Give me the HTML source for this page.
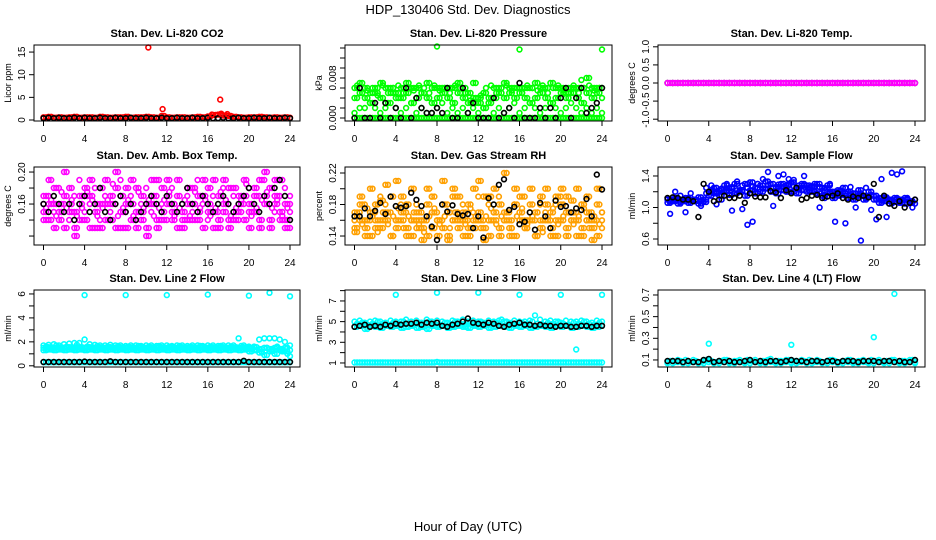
<!DOCTYPE html>
<html><head><meta charset="utf-8"><style>
html,body{margin:0;padding:0;background:#fff}
svg{display:block;font-family:"Liberation Sans",sans-serif}
</style></head><body>
<svg id="chart" width="936" height="540" viewBox="0 0 936 540">
<text x="468" y="14" font-size="13" text-anchor="middle">HDP_130406  Std. Dev. Diagnostics</text>
<text x="468" y="531" font-size="13" text-anchor="middle">Hour of Day (UTC)</text>
</svg>
<script>
const T=[0,0.5,1,1.5,2,2.5,3,3.5,4,4.5,5,5.5,6,6.5,7,7.5,8,8.5,9,9.5,10,10.5,11,11.5,12,12.5,13,13.5,14,14.5,15,15.5,16,16.5,17,17.5,18,18.5,19,19.5,20,20.5,21,21.5,22,22.5,23,23.5,24];
const T2=[0.25,0.75,1.25,1.75,2.25,2.75,3.25,3.75,4.25,4.75,5.25,5.75,6.25,6.75,7.25,7.75,8.25,8.75,9.25,9.75,10.25,10.75,11.25,11.75,12.25,12.75,13.25,13.75,14.25,14.75,15.25,15.75,16.25,16.75,17.25,17.75,18.25,18.75,19.25,19.75,20.25,20.75,21.25,21.75,22.25,22.75,23.25,23.75];
const xTicks=[0,4,8,12,16,20,24];
const xTickLabels=["0","4","8","12","16","20","24"];

// Panel 1 CO2
const co2Red=[0.6,0.7,0.5,0.6,0.5,0.6,0.7,0.5,0.6,0.6,0.5,0.7,0.6,0.5,0.6,0.6,0.7,0.5,0.6,0.6,0.7,0.6,0.5,0.9,0.6,0.5,0.6,0.6,0.5,0.6,0.7,0.6,0.8,1.1,1.2,1.0,0.9,0.7,0.6,0.5,0.6,0.6,0.7,0.6,0.5,0.6,0.5,0.6,0.5];
const co2Black=[0.4,0.5,0.4,0.5,0.4,0.4,0.5,0.4,0.5,0.4,0.4,0.5,0.4,0.4,0.5,0.4,0.4,0.5,0.4,0.4,0.5,0.4,0.4,0.5,0.4,0.4,0.5,0.4,0.4,0.5,0.4,0.4,0.5,0.4,0.4,0.5,0.4,0.4,0.5,0.4,0.4,0.5,0.4,0.4,0.5,0.4,0.4,0.5,0.4];
const co2OutT=[10.2,11.6,17.2,16.4,17.3,17.9];
const co2OutY=[16,2.4,4.5,1.2,1.4,1.3];

// Panel 2 pressure
const prG0=[0,0,0,0,0,0,0,0,0,0,0,0,0,0,0,0,0,0,0,0,0,0,0,0,0,0,0,0,0,0,0,0,0,0,0,0,0,0,0,0,0,0,0,0,0,0,0,0,0];
const prG1=[0.006,0.007,0.006,0.005,0.006,0.007,0.006,0.006,0.005,0.006,0.007,0.006,0.006,0.005,0.007,0.006,0.006,0.006,0.006,0.006,0.007,0.006,0.005,0.007,0.004,0.005,0.004,0.006,0.006,0.007,0.006,0.006,0.006,0.006,0.006,0.007,0.006,0.006,0.007,0.006,0.006,0.005,0.006,0.006,0.006,0.008,0.006,0.006,0.006];
const prG2=[0.004,0.005,0.004,0.003,0.005,0.004,0.003,0.005,0.004,0.004,0.005,0.003,0.004,0.005,0.004,0.003,0.004,0.005,0.004,0.003,0.005,0.004,0.003,0.004,0.003,0.002,0.003,0.004,0.005,0.004,0.005,0.004,0.005,0.004,0.003,0.004,0.005,0.004,0.003,0.004,0.005,0.004,0.005,0.004,0.003,0.005,0.004,0.005,0.004];
const prG3=[0.001,0.002,0.002,0.003,0.002,0.001,0.002,0.003,0.002,0.001,0.002,0.003,0.001,0.002,0.001,0.001,0.002,0.003,0.001,0.002,0.001,0.002,0.001,0.002,0.001,0.002,0.003,0.001,0.002,0.001,0.002,0.003,0.001,0.002,0.003,0.002,0.001,0.002,0.003,0.002,0.001,0.002,0.003,0.002,0.001,0.002,0.001,0.002,0.001];
const prG5=[0.0065,0.005,0.0055,0.006,0.0045,0.0065,0.005,0.006,0.0065,0.005,0.006,0.0055,0.0065,0.006,0.005,0.0065,0.0055,0.006,0.005,0.0065,0.006,0.005,0.0035,0.003,0.0045,0.006,0.0065,0.005,0.006,0.0065,0.0055,0.006,0.005,0.0065,0.006,0.0055,0.0065,0.005,0.006,0.0065,0.0055,0.006,0.0065,0.005,0.006,0.0065,0.0055,0.006];
const prBlack=[0.0,0.006,0.0,0.0,0.003,0.0,0.003,0.0,0.002,0.0,0.006,0.0,0.004,0.002,0.001,0.001,0.002,0.001,0.006,0.0,0.0,0.006,0.001,0.003,0.0,0.0,0.0,0.004,0.0,0.001,0.002,0.0,0.007,0.0,0.0,0.0,0.002,0.0,0.002,0.0,0.004,0.006,0.0,0.004,0.006,0.001,0.002,0.003,0.006];
const prOutT=[8,16,24,22];
const prOutY=[0.0143,0.0137,0.0137,0.0076];

// Panel 3 temperature
const tmMag=[0,0,0,0,0,0,0,0,0,0,0,0,0,0,0,0,0,0,0,0,0,0,0,0,0,0,0,0,0,0,0,0,0,0,0,0,0,0,0,0,0,0,0,0,0,0,0,0,0];
const tmBlack=[0,0,0,0,0,0,0,0,0,0,0,0,0,0,0,0,0,0,0,0,0,0,0,0,0,0,0,0,0,0,0,0,0,0,0,0,0,0,0,0,0,0,0,0,0,0,0,0,0];

// Panel 4 amb box temp
const abM1=[0.16,0.17,0.15,0.18,0.16,0.14,0.17,0.19,0.15,0.16,0.18,0.14,0.17,0.15,0.16,0.19,0.15,0.17,0.14,0.16,0.18,0.15,0.17,0.16,0.14,0.18,0.15,0.16,0.17,0.15,0.19,0.16,0.14,0.17,0.15,0.18,0.16,0.17,0.14,0.16,0.18,0.15,0.17,0.19,0.16,0.15,0.17,0.18,0.16];
const abM2=[0.15,0.14,0.16,0.15,0.13,0.16,0.15,0.14,0.17,0.13,0.15,0.16,0.14,0.17,0.13,0.15,0.16,0.14,0.15,0.17,0.13,0.16,0.14,0.15,0.17,0.16,0.13,0.15,0.14,0.16,0.15,0.13,0.16,0.15,0.14,0.16,0.13,0.15,0.17,0.14,0.16,0.15,0.13,0.16,0.14,0.17,0.15,0.14,0.15];
const abM3=[0.17,0.16,0.18,0.14,0.17,0.18,0.13,0.16,0.18,0.17,0.13,0.18,0.16,0.14,0.18,0.17,0.13,0.16,0.18,0.14,0.16,0.17,0.19,0.14,0.16,0.15,0.17,0.14,0.16,0.18,0.14,0.17,0.18,0.13,0.17,0.15,0.18,0.14,0.16,0.17,0.15,0.18,0.14,0.17,0.18,0.16,0.19,0.13,0.17];
const abM4=[0.14,0.19,0.13,0.16,0.2,0.15,0.12,0.17,0.14,0.19,0.16,0.13,0.19,0.16,0.2,0.13,0.18,0.19,0.13,0.15,0.12,0.19,0.13,0.18,0.19,0.14,0.19,0.13,0.18,0.14,0.17,0.19,0.15,0.19,0.13,0.19,0.14,0.18,0.15,0.19,0.13,0.17,0.19,0.2,0.13,0.19,0.14,0.16,0.13];
const abM5=[0.155,0.165,0.145,0.175,0.155,0.165,0.145,0.155,0.175,0.165,0.145,0.155,0.165,0.185,0.145,0.155,0.165,0.145,0.175,0.155,0.165,0.145,0.155,0.165,0.175,0.145,0.155,0.165,0.145,0.175,0.155,0.165,0.145,0.155,0.175,0.165,0.145,0.155,0.165,0.185,0.145,0.155,0.165,0.175,0.155,0.165,0.145,0.155];
const abBlack=[0.16,0.15,0.17,0.16,0.15,0.16,0.14,0.16,0.17,0.15,0.16,0.18,0.15,0.14,0.16,0.17,0.15,0.16,0.14,0.15,0.16,0.17,0.16,0.15,0.17,0.16,0.15,0.16,0.18,0.16,0.15,0.17,0.16,0.15,0.16,0.17,0.16,0.15,0.16,0.17,0.18,0.16,0.15,0.17,0.16,0.18,0.19,0.17,0.14];

// Panel 5 gas stream RH
const rhO1=[0.17,0.18,0.16,0.17,0.18,0.16,0.17,0.19,0.16,0.17,0.18,0.16,0.17,0.16,0.18,0.17,0.16,0.18,0.17,0.19,0.16,0.17,0.18,0.16,0.17,0.19,0.16,0.17,0.18,0.17,0.16,0.18,0.17,0.16,0.18,0.17,0.16,0.18,0.17,0.16,0.18,0.19,0.17,0.16,0.18,0.17,0.16,0.18,0.17];
const rhO2=[0.15,0.16,0.15,0.14,0.16,0.15,0.16,0.14,0.15,0.16,0.15,0.14,0.16,0.15,0.14,0.15,0.16,0.15,0.14,0.16,0.15,0.16,0.14,0.15,0.16,0.15,0.14,0.16,0.15,0.16,0.15,0.14,0.16,0.15,0.16,0.14,0.15,0.16,0.15,0.14,0.16,0.15,0.16,0.14,0.15,0.16,0.15,0.14,0.16];
const rhO3=[0.16,0.17,0.18,0.16,0.17,0.19,0.18,0.17,0.16,0.18,0.17,0.16,0.18,0.17,0.16,0.19,0.17,0.16,0.18,0.16,0.17,0.18,0.16,0.17,0.19,0.16,0.18,0.17,0.19,0.16,0.17,0.18,0.16,0.19,0.17,0.16,0.18,0.17,0.16,0.18,0.19,0.17,0.16,0.17,0.18,0.16,0.17,0.16,0.17];
const rhO4=[0.145,0.19,0.14,0.2,0.15,0.185,0.205,0.14,0.21,0.19,0.14,0.2,0.15,0.135,0.2,0.19,0.14,0.21,0.135,0.2,0.19,0.14,0.15,0.2,0.21,0.135,0.19,0.2,0.14,0.22,0.14,0.2,0.19,0.15,0.2,0.14,0.19,0.2,0.14,0.19,0.2,0.14,0.185,0.2,0.14,0.19,0.135,0.2,0.15];
const rhO5=[0.165,0.155,0.175,0.165,0.145,0.17,0.155,0.165,0.175,0.15,0.165,0.17,0.155,0.145,0.165,0.175,0.155,0.165,0.15,0.17,0.165,0.155,0.175,0.165,0.15,0.165,0.175,0.155,0.165,0.17,0.15,0.165,0.175,0.155,0.165,0.17,0.145,0.165,0.175,0.155,0.165,0.17,0.155,0.165,0.175,0.15,0.165,0.155];
const rhBlack=[0.165,0.165,0.175,0.165,0.172,0.182,0.168,0.19,0.178,0.176,0.178,0.195,0.186,0.178,0.165,0.152,0.135,0.18,0.171,0.179,0.168,0.166,0.168,0.15,0.165,0.138,0.188,0.18,0.205,0.212,0.173,0.177,0.155,0.158,0.17,0.148,0.182,0.165,0.15,0.185,0.177,0.178,0.17,0.175,0.173,0.187,0.165,0.218,0.199];

// Panel 6 sample flow
const sfB1=[1.1,1.12,1.1,1.08,1.12,1.1,1.13,1.1,1.2,1.25,1.22,1.28,1.24,1.3,1.22,1.3,1.32,1.25,1.28,1.33,1.3,1.26,1.3,1.28,1.32,1.25,1.3,1.28,1.27,1.3,1.25,1.28,1.2,1.22,1.25,1.2,1.18,1.22,1.15,1.2,1.15,1.12,1.13,1.1,1.12,1.1,1.12,1.08,1.1];
const sfB2=[1.06,1.08,1.05,1.1,1.06,1.08,1.05,1.07,1.15,1.18,1.15,1.2,1.16,1.18,1.2,1.15,1.22,1.18,1.2,1.24,1.2,1.18,1.22,1.2,1.2,1.18,1.22,1.2,1.2,1.18,1.15,1.2,1.12,1.15,1.18,1.12,1.1,1.15,1.1,1.15,1.1,1.06,1.08,1.05,1.07,1.06,1.05,1.06,1.05];
const sfB4=[1.08,1.1,1.07,1.12,1.09,1.1,1.08,1.18,1.22,1.2,1.24,1.22,1.26,1.22,1.28,1.25,1.27,1.3,1.24,1.28,1.25,1.29,1.26,1.3,1.27,1.24,1.28,1.25,1.22,1.26,1.22,1.18,1.17,1.2,1.15,1.17,1.14,1.18,1.12,1.16,1.1,1.09,1.11,1.08,1.1,1.09,1.11,1.08];
const sfB3=[0.92,1.2,1.15,0.94,1.18,1.08,1.02,1.25,1.28,1.04,1.1,1.3,0.96,1.33,0.98,0.78,0.82,1.3,1.36,1.45,1.02,1.4,1.42,1.36,1.35,1.28,1.4,1.22,1.3,1.0,1.12,1.3,0.82,1.2,0.8,1.26,1.0,0.58,1.25,0.97,0.85,1.36,0.88,1.44,1.42,1.46,1.1,1.0,0.82];
const sfBlack=[1.12,1.13,1.12,1.1,1.1,1.08,0.88,1.3,1.2,1.08,1.1,1.15,1.12,1.12,1.15,1.06,1.18,1.14,1.13,1.13,1.21,1.19,1.12,1.22,1.18,1.25,1.1,1.12,1.15,1.16,1.12,1.14,1.15,1.18,1.12,1.1,1.14,1.12,1.15,1.13,1.3,0.88,1.15,1.05,1.02,1.08,1.0,1.06,1.1];

// Panel 7 line 2 flow
const l2C1=[1.7,1.75,1.8,1.7,1.8,1.85,1.9,1.9,2.2,1.8,1.75,1.7,1.7,1.75,1.7,1.7,1.65,1.7,1.7,1.65,1.7,1.7,1.65,1.7,1.7,1.65,1.7,1.7,1.65,1.7,1.7,1.65,1.7,1.7,1.65,1.7,1.7,1.7,2.3,1.7,1.6,1.6,2.2,2.3,2.3,2.3,2.2,2.0,1.7];
const l2C2=[1.3,1.35,1.3,1.35,1.3,1.35,1.3,1.35,1.3,1.35,1.3,1.35,1.3,1.35,1.3,1.35,1.3,1.35,1.3,1.35,1.3,1.35,1.3,1.35,1.3,1.35,1.3,1.35,1.3,1.35,1.3,1.35,1.3,1.35,1.3,1.35,1.3,1.35,1.3,1.35,1.2,1.3,1.1,0.9,1.2,1.0,1.3,1.2,0.8];
const l2C3=[1.5,1.55,1.5,1.55,1.5,1.55,1.5,1.55,1.5,1.55,1.5,1.55,1.5,1.55,1.5,1.55,1.5,1.55,1.5,1.55,1.5,1.55,1.5,1.55,1.5,1.55,1.5,1.55,1.5,1.55,1.5,1.55,1.5,1.55,1.5,1.55,1.5,1.55,1.5,1.55,1.5,1.55,1.4,1.5,1.4,1.5,1.4,1.5,1.3];
const l2C5=[1.6,1.4,1.7,1.45,1.6,1.4,1.75,1.5,1.6,1.4,1.65,1.45,1.6,1.4,1.65,1.45,1.6,1.4,1.65,1.45,1.6,1.4,1.65,1.45,1.6,1.4,1.65,1.45,1.6,1.4,1.65,1.45,1.6,1.4,1.65,1.45,1.6,1.4,1.65,1.45,1.4,1.3,1.2,1.5,1.3,1.6,1.2,1.0];
const l2C4=[0.3,0.3,0.3,0.3,0.3,0.3,0.3,0.3,0.3,0.3,0.3,0.3,0.3,0.3,0.3,0.3,0.3,0.3,0.3,0.3,0.3,0.3,0.3,0.3,0.3,0.3,0.3,0.3,0.3,0.3,0.3,0.3,0.3,0.3,0.3,0.3,0.3,0.3,0.3,0.3,0.3,0.3,0.3,0.3,0.3,0.3,0.3,0.3,0.3];
const l2Black=[0.32,0.32,0.32,0.32,0.32,0.32,0.32,0.32,0.35,0.32,0.32,0.32,0.32,0.38,0.32,0.32,0.32,0.32,0.32,0.32,0.32,0.32,0.32,0.32,0.32,0.32,0.32,0.32,0.32,0.32,0.32,0.32,0.32,0.32,0.32,0.32,0.32,0.32,0.32,0.42,0.32,0.32,0.32,0.32,0.32,0.32,0.32,0.32,0.32];
const l2OutT=[4,8,12,16,20,22,24];
const l2OutY=[5.9,5.9,5.9,5.95,5.85,6.1,5.8];

// Panel 8 line 3 flow
const l3C1=[5.0,5.1,4.9,5.0,5.1,5.0,4.9,5.1,5.0,5.0,5.2,5.0,5.1,4.9,5.2,5.0,5.1,5.0,4.9,5.1,5.0,5.2,5.0,5.1,5.0,4.9,5.1,5.0,5.1,5.0,4.9,5.1,5.0,5.0,5.1,5.6,5.2,5.0,5.1,5.0,4.9,5.1,5.0,5.0,5.1,5.0,4.9,5.1,5.0];
const l3C2=[4.5,4.6,4.3,4.6,4.5,4.4,4.6,4.5,4.6,4.4,4.5,4.6,4.4,4.5,4.3,4.6,4.5,4.6,4.4,4.5,4.6,4.5,4.4,4.6,4.5,4.6,4.4,4.5,4.6,4.5,4.4,4.6,4.5,4.6,4.4,4.5,4.6,4.5,4.4,4.6,4.5,4.6,4.4,4.5,4.6,4.5,4.4,4.5,4.6];
const l3C4=[4.8,4.9,4.7,4.8,5.0,4.8,4.7,4.9,4.8,5.0,4.8,4.7,4.9,4.8,5.0,4.8,4.7,4.9,4.8,5.0,4.8,4.7,4.9,4.8,5.0,4.8,4.7,4.9,5.2,5.0,4.8,4.7,4.9,4.8,5.0,4.8,4.7,4.9,4.8,5.0,4.8,4.7,4.9,4.8,5.0,4.8,4.7,4.9];
const l3C3=[1.05,1.05,1.05,1.05,1.05,1.05,1.05,1.05,1.05,1.05,1.05,1.05,1.05,1.05,1.05,1.05,1.1,1.05,1.05,1.05,1.05,1.05,1.05,1.05,1.05,1.05,1.05,1.05,1.05,1.05,1.05,1.05,1.05,1.05,1.05,1.05,1.05,1.05,1.05,1.05,1.05,1.05,1.05,1.05,1.05,1.05,1.05,1.05,1.05];
const l3C5=[1.05,1.05,1.05,1.05,1.05,1.05,1.05,1.05,1.05,1.05,1.05,1.05,1.05,1.05,1.05,1.05,1.05,1.05,1.05,1.05,1.05,1.05,1.05,1.05,1.05,1.05,1.05,1.05,1.05,1.05,1.05,1.05,1.05,1.05,1.05,1.05,1.05,1.05,1.05,1.05,1.05,1.05,1.05,1.05,1.05,1.05,1.05,1.05];
const l3Black=[4.5,4.6,4.7,4.5,4.6,4.5,4.7,4.6,4.8,4.7,4.8,4.8,4.9,4.7,4.9,4.8,4.9,4.6,4.5,4.7,4.8,5.0,5.3,4.9,4.8,4.7,4.9,4.8,4.6,4.5,4.7,4.8,4.9,4.7,4.7,4.6,4.7,4.6,4.6,4.5,4.6,4.6,4.5,4.5,4.6,4.6,4.5,4.6,4.6];
const l3OutT=[4,8,12,16,20,21.5,24];
const l3OutY=[7.6,7.8,7.8,7.6,7.6,2.3,7.6];

// Panel 9 line 4 (LT) flow
const l4C1=[0.08,0.09,0.1,0.08,0.09,0.1,0.08,0.09,0.1,0.08,0.09,0.1,0.08,0.09,0.1,0.08,0.09,0.1,0.08,0.09,0.11,0.08,0.09,0.1,0.08,0.09,0.1,0.08,0.09,0.1,0.08,0.09,0.1,0.08,0.09,0.1,0.08,0.09,0.1,0.08,0.09,0.1,0.08,0.09,0.1,0.08,0.09,0.1,0.08];
const l4C2=[0.07,0.07,0.08,0.07,0.07,0.08,0.07,0.07,0.08,0.07,0.07,0.08,0.07,0.07,0.08,0.07,0.07,0.08,0.07,0.07,0.08,0.07,0.07,0.08,0.07,0.07,0.08,0.07,0.07,0.08,0.07,0.07,0.08,0.07,0.07,0.08,0.07,0.07,0.08,0.07,0.07,0.08,0.07,0.07,0.08,0.07,0.07,0.08,0.07];
const l4C3=[0.09,0.08,0.09,0.1,0.08,0.09,0.08,0.1,0.09,0.08,0.09,0.1,0.08,0.09,0.08,0.1,0.09,0.08,0.09,0.1,0.08,0.09,0.08,0.1,0.09,0.08,0.09,0.1,0.08,0.09,0.08,0.1,0.09,0.08,0.09,0.1,0.08,0.09,0.08,0.1,0.09,0.08,0.09,0.1,0.08,0.09,0.08,0.1];
const l4Black=[0.09,0.09,0.09,0.08,0.09,0.08,0.08,0.1,0.11,0.08,0.09,0.08,0.09,0.08,0.08,0.09,0.1,0.08,0.09,0.08,0.09,0.09,0.08,0.09,0.1,0.09,0.09,0.08,0.09,0.09,0.08,0.09,0.09,0.08,0.09,0.09,0.09,0.08,0.09,0.09,0.09,0.08,0.09,0.09,0.08,0.09,0.08,0.08,0.1];
const l4OutT=[4,12,20,22];
const l4OutY=[0.25,0.24,0.31,0.71];

const NS="http://www.w3.org/2000/svg";
const svg=document.getElementById('chart');
function mk(tag,attrs,parent){const e=document.createElementNS(NS,tag);for(const k in attrs)e.setAttribute(k,attrs[k]);(parent||svg).appendChild(e);return e;}

const cols=[[34,300],[345,612],[658,925]];
const rows=[[45,121],[167,245],[290,367]];

const panels=[
 {name:'co2',title:'Stan. Dev. Li-820 CO2',ylab:'Licor ppm',c:0,r:0,lo:-0.22,hi:16.56,ticks:[0,5,10,15],labels:['0','5','10','15'],
  series:[[T,co2Red,'#ff0000'],[T2,co2Red,'#ff0000'],[T,co2Black,'#000000'],[co2OutT,co2OutY,'#ff0000']]},
 {name:'pressure',title:'Stan. Dev. Li-820 Pressure',ylab:'kPa',c:1,r:0,lo:-0.0006,hi:0.0146,ticks:[0,0.002,0.004,0.006,0.008,0.010,0.012,0.014],labels:['0.000','','','','0.008','','',''],
  series:[[T,prG0,'#00ff00'],[T2,prG0,'#00ff00'],[T,prG3,'#00ff00'],[T2,prG2,'#00ff00'],[T,prG2,'#00ff00'],[T2,prG1,'#00ff00'],[T,prG1,'#00ff00'],[T2,prG5,'#00ff00'],[prOutT,prOutY,'#00ff00'],[T,prBlack,'#000000']]},
 {name:'temp',title:'Stan. Dev. Li-820 Temp.',ylab:'degrees C',c:2,r:0,lo:-1.05,hi:1.05,ticks:[-1,-0.5,0,0.5,1],labels:['-1.0','-0.5','0.0','0.5','1.0'],
  series:[[T,tmBlack,'#000000'],[T,tmMag,'#ff00ff'],[T2,tmMag,'#ff00ff']]},
 {name:'amb-box',title:'Stan. Dev. Amb. Box Temp.',ylab:'degrees C',c:0,r:1,lo:0.1088,hi:0.2063,ticks:[0.12,0.14,0.16,0.18,0.20],labels:['','','0.16','','0.20'],
  series:[[T,abM4,'#ff00ff'],[T,abM1,'#ff00ff'],[T2,abM2,'#ff00ff'],[T,abM2,'#ff00ff'],[T2,abM3,'#ff00ff'],[T,abM3,'#ff00ff'],[T2,abM5,'#ff00ff'],[T2,abM4,'#ff00ff'],[T,abBlack,'#000000']]},
 {name:'rh',title:'Stan. Dev. Gas Stream RH',ylab:'percent',c:1,r:1,lo:0.1286,hi:0.2276,ticks:[0.14,0.16,0.18,0.20,0.22],labels:['0.14','','0.18','','0.22'],
  series:[[T,rhO4,'#ffa000'],[T2,rhO4,'#ffa000'],[T,rhO1,'#ffa000'],[T2,rhO1,'#ffa000'],[T,rhO2,'#ffa000'],[T2,rhO2,'#ffa000'],[T,rhO3,'#ffa000'],[T2,rhO5,'#ffa000'],[T,rhBlack,'#000000']]},
 {name:'sample-flow',title:'Stan. Dev. Sample Flow',ylab:'ml/min',c:2,r:1,lo:0.524,hi:1.514,ticks:[0.6,0.8,1.0,1.2,1.4],labels:['0.6','','1.0','','1.4'],
  series:[[T2,sfB3,'#0000ff'],[T,sfB1,'#0000ff'],[T2,sfB1,'#0000ff'],[T,sfB2,'#0000ff'],[T2,sfB2,'#0000ff'],[T2,sfB4,'#0000ff'],[T,sfBlack,'#000000']]},
 {name:'line2-flow',title:'Stan. Dev. Line 2 Flow',ylab:'ml/min',c:0,r:2,lo:-0.1,hi:6.33,ticks:[0,1,2,3,4,5,6],labels:['0','','2','','4','','6'],
  series:[[T,l2C1,'#00ffff'],[T2,l2C5,'#00ffff'],[T,l2C2,'#00ffff'],[T2,l2C2,'#00ffff'],[T,l2C3,'#00ffff'],[T2,l2C3,'#00ffff'],[T,l2C4,'#00ffff'],[T2,l2C4,'#00ffff'],[l2OutT,l2OutY,'#00ffff'],[T,l2Black,'#000000']]},
 {name:'line3-flow',title:'Stan. Dev. Line 3 Flow',ylab:'ml/min',c:1,r:2,lo:0.61,hi:8.06,ticks:[1,2,3,4,5,6,7,8],labels:['1','','3','','5','','7',''],
  series:[[T,l3C1,'#00ffff'],[T2,l3C4,'#00ffff'],[T,l3C2,'#00ffff'],[T2,l3C2,'#00ffff'],[T,l3C3,'#00ffff'],[T2,l3C5,'#00ffff'],[l3OutT,l3OutY,'#00ffff'],[T,l3Black,'#000000']]},
 {name:'line4-flow',title:'Stan. Dev. Line 4 (LT) Flow',ylab:'ml/min',c:2,r:2,lo:0.035,hi:0.746,ticks:[0.1,0.2,0.3,0.4,0.5,0.6,0.7],labels:['0.1','','0.3','','0.5','','0.7'],
  series:[[T,l4C2,'#00ffff'],[T2,l4C3,'#00ffff'],[T,l4C1,'#00ffff'],[l4OutT,l4OutY,'#00ffff'],[T,l4Black,'#000000']]}
];

panels.forEach(p=>{
  const [L,R]=cols[p.c],[Tp,B]=rows[p.r];
  const g=mk('g',{});
  
  
  const xs=t=>L+9.5+t/24*(R-L-19.5);
  const ys=v=>B-(v-p.lo)/(p.hi-p.lo)*(B-Tp);
  const ttl=mk('text',{x:(L+R)/2,y:Tp-8,'font-size':11,'font-weight':'bold','text-anchor':'middle'},g);
  ttl.textContent=p.title;
  
  
  const pg=mk('g',{fill:'none','stroke-width':1.6},g);
  
  
  p.series.forEach(s=>{
    const [tx,vy,col]=s;
    const n=Math.min(tx.length,vy.length);
    for(let i=0;i<n;i++){
      const c=mk('circle',{cx:xs(tx[i]).toFixed(1),cy:ys(vy[i]).toFixed(1),r:2.4,stroke:col},pg);
      
      
    }
  });
  const box=mk('rect',{x:L,y:Tp,width:R-L,height:B-Tp,fill:'none',stroke:'#000','stroke-width':1},g);
  
  
  const xa=mk('g',{},g);
  
  
  mk('line',{x1:xs(0),x2:xs(24),y1:B,y2:B,stroke:'#000'},xa);
  xTicks.forEach((t,i)=>{
    mk('line',{x1:xs(t),x2:xs(t),y1:B,y2:B+5,stroke:'#000'},xa);
    const tl=mk('text',{x:xs(t),y:B+21,'font-size':10,'text-anchor':'middle'},xa);
    tl.textContent=xTickLabels[i];
    
    
  });
  const ya=mk('g',{},g);
  
  
  p.ticks.forEach((v,i)=>{
    const y=ys(v);
    mk('line',{x1:L-5,x2:L,y1:y,y2:y,stroke:'#000'},ya);
    if(p.labels[i]){
      const tl=mk('text',{x:0,y:0,'font-size':10,'text-anchor':'middle',transform:`translate(${L-9},${y}) rotate(-90)`},ya);
      tl.textContent=p.labels[i];
      
      
    }
  });
  const yl=mk('text',{x:0,y:0,'font-size':9,'text-anchor':'middle',transform:`translate(${L-23},${(Tp+B)/2}) rotate(-90)`},ya);
  yl.textContent=p.ylab;
  
  
});
</script>
</body></html>
